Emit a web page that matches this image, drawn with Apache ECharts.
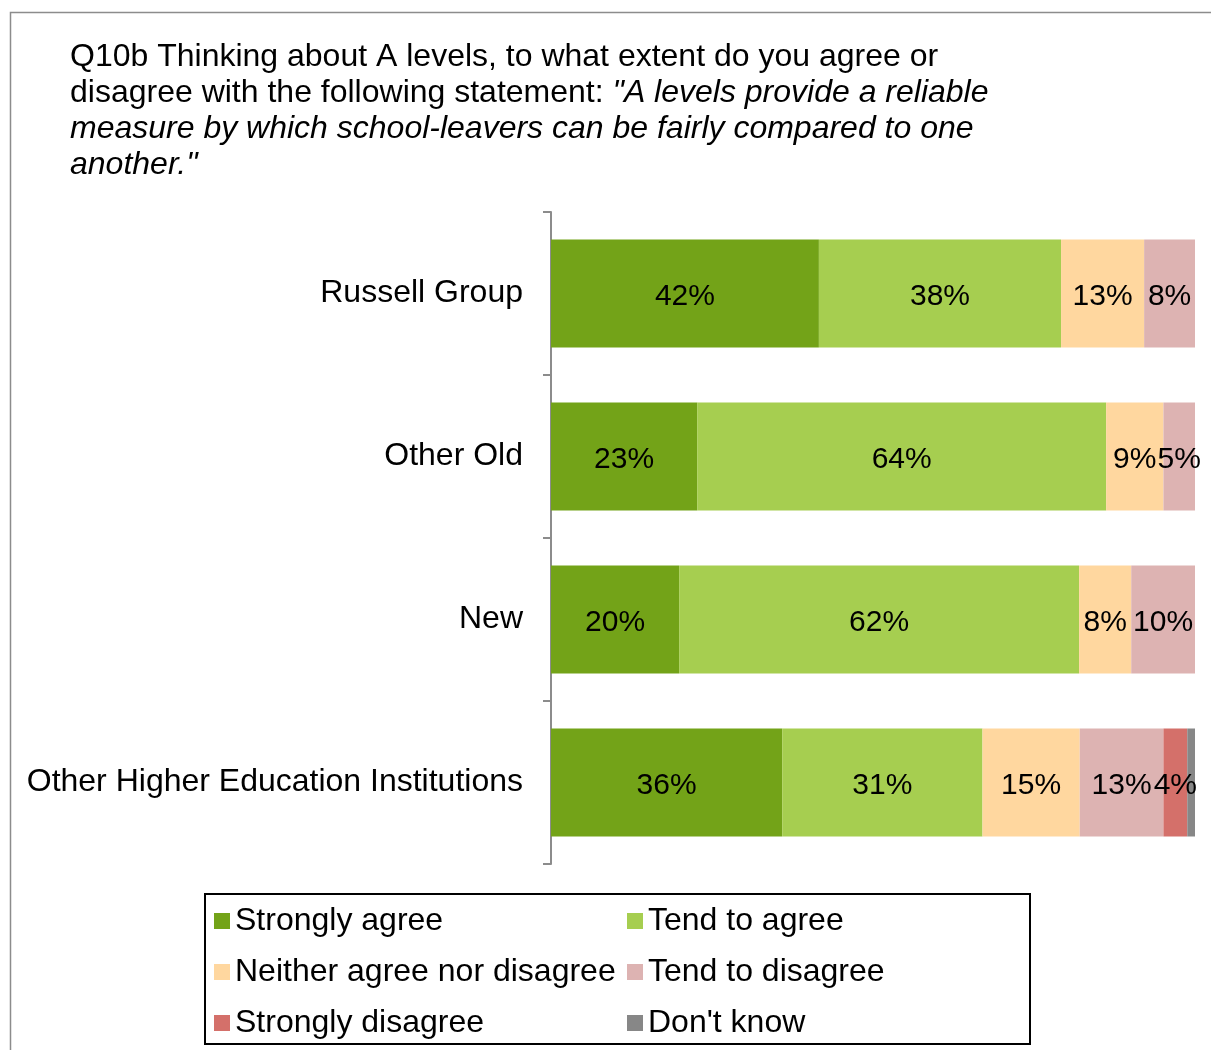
<!DOCTYPE html>
<html>
<head>
<meta charset="utf-8">
<script src="https://cdn.jsdelivr.net/npm/echarts@6/dist/echarts.min.js"></script>
<style>
  html, body { margin: 0; padding: 0; background: #fff; overflow: hidden; }
  #chart { width: 1211px; height: 1050px; }
</style>
</head>
<body>
<div id="chart"></div>
<script>
// categories (top to bottom)
var categories = ['Russell Group', 'Other Old', 'New', 'Other Higher Education Institutions'];

// share of answers, %
var stronglyAgree    = [41.6, 22.7, 19.9, 35.9];
var tendAgree        = [37.6, 63.5, 62.1, 31.1];
var neither          = [12.9, 8.9, 8.1, 15.1];
var tendDisagree     = [7.9, 5.0, 9.9, 13.0];
var stronglyDisagree = [null, null, null, 3.7];
var dontKnow         = [null, null, null, 1.2];

var seriesNames = ['Strongly agree', 'Tend to agree', 'Neither agree nor disagree',
                   'Tend to disagree', 'Strongly disagree', "Don't know"];
var seriesData = [stronglyAgree, tendAgree, neither, tendDisagree, stronglyDisagree, dontKnow];
var colors = ['#73A318', '#A6CE50', '#FFD79F', '#DDB3B2', '#D4706A', '#878787'];

var font = "'Liberation Sans', Arial, sans-serif";
var fs = 32;

var chart = echarts.init(document.getElementById('chart'));

var series = seriesNames.map(function (name, i) {
    return {
        name: name,
        type: 'bar',
        stack: 'total',
        barWidth: 108,
        data: seriesData[i],
        itemStyle: { color: colors[i] },
        label: {
            show: i < 5,
            position: 'inside',
            color: '#000',
            fontSize: 30,
            fontFamily: font,
            offset: [0, 3],
            formatter: function (p) {
                return p.value == null ? '' : Math.round(p.value) + '%';
            }
        }
    };
});

var legendText = { fontSize: fs, fontFamily: font, color: '#000', lineHeight: 30 };

var option = {
    animation: false,
    textStyle: { fontFamily: font },
    title: {
        left: 70,
        top: 39,
        padding: 0,
        text: '{n|Q10b Thinking about A levels, to what extent do you agree or}\n' +
              '{n|disagree with the following statement: }{i|"A levels provide a reliable}\n' +
              '{i|measure by which school-leavers can be fairly compared to one}\n' +
              '{i|another."}',
        textStyle: {
            fontWeight: 'normal',
            rich: {
                n: { fontSize: fs, fontFamily: font, color: '#000', lineHeight: 36, fontWeight: 'normal' },
                i: { fontSize: fs, fontFamily: font, color: '#000', lineHeight: 36, fontWeight: 'normal', fontStyle: 'italic' }
            }
        }
    },
    legend: [{
        orient: 'vertical',
        left: 214,
        top: 905,
        padding: 0,
        itemWidth: 16,
        itemHeight: 16,
        itemGap: 19,
        icon: 'rect',
        data: [seriesNames[0], seriesNames[2], seriesNames[4]],
        textStyle: legendText
    }, {
        orient: 'vertical',
        left: 627,
        top: 905,
        padding: 0,
        itemWidth: 16,
        itemHeight: 16,
        itemGap: 19,
        icon: 'rect',
        data: [seriesNames[1], seriesNames[3], seriesNames[5]],
        textStyle: legendText
    }],
    graphic: [{
        type: 'rect',
        shape: { x: 10.5, y: 12.5, width: 1400, height: 1200 },
        style: { fill: 'none', stroke: '#8c8c8c', lineWidth: 1.5 },
        z: -10
    }, {
        type: 'rect',
        shape: { x: 205, y: 894, width: 825, height: 150 },
        style: { fill: 'none', stroke: '#000', lineWidth: 2 }
    }],
    grid: { left: 551, right: 16, top: 212, bottom: 186 },
    xAxis: {
        type: 'value',
        min: 0,
        max: 100,
        show: false
    },
    yAxis: {
        type: 'category',
        inverse: true,
        data: categories,
        axisLine: { lineStyle: { color: '#8c8c8c', width: 2 } },
        axisTick: { show: true, length: 8, lineStyle: { color: '#8c8c8c', width: 2 } },
        axisLabel: { fontSize: fs, fontFamily: font, color: '#000', margin: 28 }
    },
    series: series
};

chart.setOption(option);
</script>
</body>
</html>
